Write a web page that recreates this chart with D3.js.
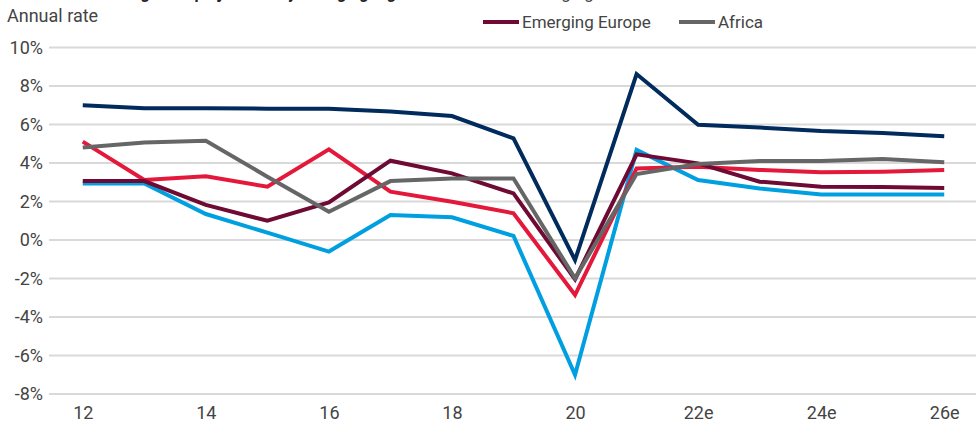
<!DOCTYPE html>
<html>
<head>
<meta charset="utf-8">
<script src="https://cdn.jsdelivr.net/npm/d3@7"></script>
<style>
  html, body { margin: 0; padding: 0; background: #fff; }
  svg { display: block; }
  text { font-family: "Roboto", "Lato", sans-serif; fill: #444; }
</style>
</head>
<body>
<div id="chart"></div>
<script>
// Year labels on the category axis
let years = ["12", "13", "14", "15", "16", "17", "18", "19", "20", "21", "22e", "23e", "24e", "25e", "26e"];
let yTicks = [-8, -6, -4, -2, 0, 2, 4, 6, 8, 10];

// Series values (annual rate, %)
let emergingAsia = [7.0, 6.85, 6.85, 6.82, 6.82, 6.67, 6.44, 5.28, -1.04, 8.62, 5.99, 5.84, 5.66, 5.56, 5.39];
let latinAmerica = [2.94, 2.94, 1.35, 0.38, -0.6, 1.3, 1.18, 0.21, -7.0, 4.68, 3.12, 2.68, 2.37, 2.37, 2.37];
let middleEast = [5.11, 3.12, 3.31, 2.77, 4.71, 2.51, 1.99, 1.39, -2.86, 3.72, 3.81, 3.64, 3.52, 3.55, 3.64];
let emergingEurope = [3.06, 3.06, 1.82, 1.0, 1.95, 4.12, 3.46, 2.42, -2.04, 4.45, 3.98, 3.03, 2.77, 2.75, 2.7];
let africa = [4.81, 5.06, 5.16, 3.29, 1.47, 3.06, 3.2, 3.2, -1.99, 3.43, 3.95, 4.1, 4.1, 4.21, 4.04];

let seriesNames = ["Emerging Asia", "Latin America", "Middle East", "Emerging Europe", "Africa"];
let seriesValues = [emergingAsia, latinAmerica, middleEast, emergingEurope, africa];
let seriesColors = ["#012b5d", "#009fe0", "#e3183a", "#6e0a33", "#666666"];

let width = 976, height = 424;

let svg = d3.select("#chart")
    .append("svg")
    .attr("width", width)
    .attr("height", height);

// Scales
let x = d3.scalePoint()
    .domain(years)
    .range([52, 975])
    .padding(0.5);

let y = d3.scaleLinear()
    .domain([-8, 10])
    .range([394, 47.5]);

// Title (cut off at the top of the picture)
svg.append("text")
    .attr("x", 8)
    .attr("y", -1)
    .style("font-size", "16px")
    .style("font-weight", "bold")
    .style("fill", "#222")
    .text("Chart 1: Real GDP growth projections by emerging region");

svg.append("text")
    .attr("x", 7)
    .attr("y", 22)
    .style("font-size", "18px")
    .text("Annual rate");

// Gridlines
svg.append("g")
    .selectAll("line")
    .data(yTicks)
    .enter()
    .append("line")
    .attr("x1", 49)
    .attr("x2", 976)
    .attr("y1", function (d) { return y(d); })
    .attr("y2", function (d) { return y(d); })
    .attr("stroke", "#d9d9d9")
    .attr("stroke-width", 2);

// Y axis labels
let yAxis = svg.append("g")
    .attr("transform", "translate(43,0)")
    .call(d3.axisLeft(y).tickValues(yTicks).tickSize(0).tickPadding(0)
        .tickFormat(function (d) { return (d < 0 ? "-" + Math.abs(d) : d) + "%"; }));
yAxis.select(".domain").remove();
yAxis.selectAll("text")
    .style("font-size", "18px")
    .attr("fill", "#444");

// X axis labels
let xAxis = svg.append("g")
    .attr("transform", "translate(0,402)")
    .call(d3.axisBottom(x)
        .tickValues(years.filter(function (d, i) { return i % 2 === 0; }))
        .tickSize(0).tickPadding(4));
xAxis.select(".domain").remove();
xAxis.selectAll("text")
    .style("font-size", "18px")
    .attr("fill", "#444");

// Lines
let line = d3.line()
    .x(function (d, i) { return x(years[i]); })
    .y(function (d) { return y(d); });

svg.append("g")
    .selectAll("path")
    .data(seriesValues)
    .enter()
    .append("path")
    .attr("d", line)
    .attr("fill", "none")
    .attr("stroke", function (d, i) { return seriesColors[i]; })
    .attr("stroke-width", 4)
    .attr("stroke-linejoin", "miter");

// Legend: first row sits above the visible area
let legend = svg.append("g")
    .selectAll("g")
    .data(seriesNames)
    .enter()
    .append("g")
    .attr("transform", function (d, i) {
        let row = i < 3 ? 0 : 1;
        let col = i < 3 ? i : i - 3;
        return "translate(" + (483 + col * 196) + "," + (row === 0 ? -1 : 28) + ")";
    });

legend.append("line")
    .attr("x1", 0)
    .attr("x2", 36)
    .attr("y1", -6)
    .attr("y2", -6)
    .attr("stroke", function (d, i) { return seriesColors[i]; })
    .attr("stroke-width", 4);

legend.append("text")
    .attr("x", 39)
    .attr("y", 0)
    .style("font-size", "17px")
    .text(function (d) { return d; });
</script>
</body>
</html>
